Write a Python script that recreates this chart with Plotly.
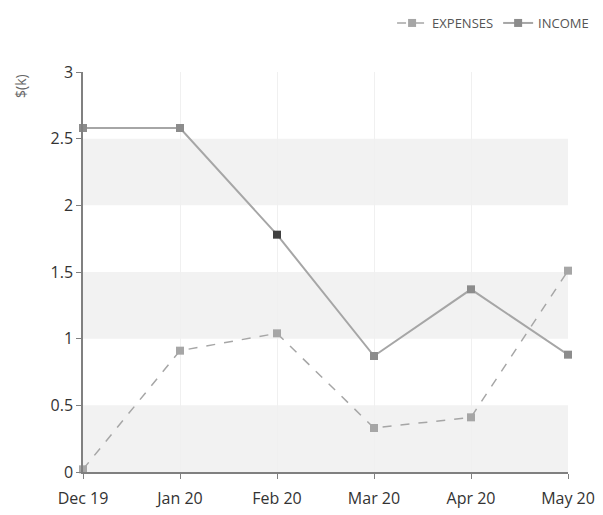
import plotly.graph_objects as go

months = ["Dec 19", "Jan 20", "Feb 20", "Mar 20", "Apr 20", "May 20"]
expenses = [0.02, 0.91, 1.04, 0.33, 0.41, 1.51]
income = [2.58, 2.58, 1.78, 0.87, 1.37, 0.88]
income_marker_colors = ["#8c8c8c", "#8c8c8c", "#404040", "#8c8c8c", "#8c8c8c", "#8c8c8c"]
y_ticks = [0, 0.5, 1, 1.5, 2, 2.5, 3]
y_tick_labels = ["0", "0.5", "1", "1.5", "2", "2.5", "3"]
bands = [(0, 0.5), (1, 1.5), (2, 2.5)]

fig = go.Figure()
fig.add_trace(go.Scatter(
    x=months, y=expenses, name="EXPENSES", mode="lines+markers",
    line=dict(color="#a6a6a6", width=1.5, dash="dash"),
    marker=dict(symbol="square", size=8, color="#a6a6a6"),
    cliponaxis=False,
))
fig.add_trace(go.Scatter(
    x=months, y=income, name="INCOME", mode="lines+markers",
    line=dict(color="#a6a6a6", width=2),
    marker=dict(symbol="square", size=8, color=income_marker_colors),
    cliponaxis=False,
))

for lo, hi in bands:
    fig.add_shape(type="rect", xref="paper", yref="y", x0=0, x1=1, y0=lo, y1=hi,
                  fillcolor="#f2f2f2", line=dict(width=0), layer="below")

fig.add_annotation(text="$(k)", xref="paper", yref="paper", x=-0.13, y=1.0,
                   textangle=-90, showarrow=False, xanchor="center", yanchor="top",
                   font=dict(size=14, color="#666666"))

fig.update_layout(
    width=595, height=507,
    margin=dict(l=75, r=35, t=64, b=43, autoexpand=False),
    plot_bgcolor="white", paper_bgcolor="white",
    font=dict(family="Open Sans, sans-serif", color="#333333", size=16),
    showlegend=True,
    legend=dict(orientation="h", x=0.985, xanchor="right", y=1.0, yanchor="top",
                xref="container", yref="container",
                font=dict(size=13, color="#555555"), traceorder="normal",
                itemwidth=30),
    xaxis=dict(type="category", range=[0, 5], showgrid=True, gridcolor="#f0f0f0",
               showline=True, linecolor="#808080", linewidth=1.5, automargin=False,
               ticks="outside", tickcolor="#808080", ticklen=5, zeroline=False,
               ticklabelstandoff=6),
    yaxis=dict(range=[0, 3], tickvals=y_ticks, ticktext=y_tick_labels, showgrid=False,
               showline=True, linecolor="#808080", linewidth=1.5, automargin=False,
               ticks="outside", tickcolor="#808080", ticklen=5, zeroline=False),
)

fig.write_html("out.html")
